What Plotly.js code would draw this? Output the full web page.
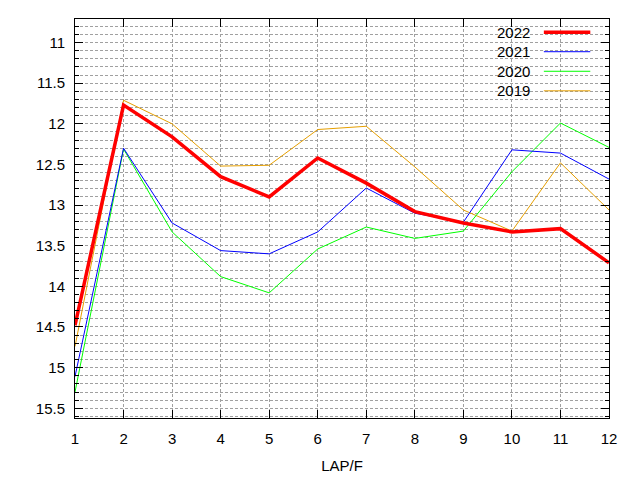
<!DOCTYPE html>
<html>
<head>
<meta charset="utf-8">
<script src="https://cdn.plot.ly/plotly-3.0.1.min.js"></script>
<style>
  html, body { margin: 0; padding: 0; background: #fff; }
  #chart { width: 640px; height: 480px; }
</style>
</head>
<body>
<div id="chart"></div>
<script>
// Values (y axis is reversed: smaller is better)
const laps = [1, 2, 3, 4, 5, 6, 7, 8, 9, 10, 11, 12];

const y2022 = [14.48, 11.77, 12.16, 12.65, 12.90, 12.42, 12.73, 13.08, 13.22, 13.33, 13.29, 13.71];
const y2021 = [15.11, 12.30, 13.22, 13.56, 13.60, 13.33, 12.79, 13.10, 13.21, 12.32, 12.36, 12.68];
const y2020 = [15.30, 12.31, 13.33, 13.88, 14.08, 13.54, 13.27, 13.41, 13.32, 12.59, 11.99, 12.29];
const y2019 = [14.74, 11.71, 12.00, 12.52, 12.51, 12.07, 12.03, 12.53, 13.06, 13.32, 12.48, 13.06];

const seriesNames = ['2022', '2021', '2020', '2019'];
const seriesData  = [y2022, y2021, y2020, y2019];
const seriesColor = ['#ff0000', '#0000ff', '#00ff00', '#e69f00'];
const seriesWidth = [3.5, 1, 1, 1];

const yTicks = [11, 11.5, 12, 12.5, 13, 13.5, 14, 14.5, 15, 15.5];

const FONT = 'Liberation Sans, Arial, sans-serif';

// draw order: older years underneath, 2022 on top
const traces = [];
for (let i = seriesNames.length - 1; i >= 0; i--) {
  traces.push({
    x: laps,
    y: seriesData[i],
    type: 'scatter',
    mode: 'lines',
    name: seriesNames[i],
    line: { color: seriesColor[i], width: seriesWidth[i] },
    showlegend: false,
  });
}

// gnuplot style key: label on the left, line sample on the right
const annotations = [];
const shapes = [];
seriesNames.forEach((name, i) => {
  const yy = 0.967 - i * 0.049;
  annotations.push({
    xref: 'paper', yref: 'paper', x: 0.856, y: yy,
    xanchor: 'right', yanchor: 'middle',
    text: name, showarrow: false,
    font: { family: FONT, size: 15, color: '#000' },
  });
  shapes.push({
    type: 'line', xref: 'paper', yref: 'paper',
    x0: 0.878, x1: 0.965, y0: yy, y1: yy,
    line: { color: seriesColor[i], width: seriesWidth[i] },
  });
});

const GRID = { gridcolor: '#a0a0a0', griddash: '3px,2px', gridwidth: 1 };

const layout = {
  width: 640, height: 480,
  paper_bgcolor: '#fff', plot_bgcolor: '#fff',
  font: { family: FONT, size: 15, color: '#000' },
  margin: { l: 75, r: 31, t: 19, b: 62 },
  showlegend: false,
  xaxis: {
    range: [1, 12],
    tickvals: laps,
    ticks: 'inside', ticklen: 8, tickcolor: '#000',
    showline: true, linecolor: '#000', linewidth: 1, mirror: 'ticks',
    showgrid: true, ...GRID,
    zeroline: false,
    tickfont: { family: FONT, size: 15 },
    ticklabelstandoff: 7,
    title: { text: 'LAP/F', font: { family: FONT, size: 15 }, standoff: 14 },
  },
  yaxis: {
    range: [15.62, 10.71],
    tickvals: yTicks,
    ticks: 'inside', ticklen: 8, tickcolor: '#000',
    showline: true, linecolor: '#000', linewidth: 1, mirror: 'ticks',
    showgrid: true, ...GRID,
    zeroline: false,
    tickfont: { family: FONT, size: 15 },
    ticklabelstandoff: 6,
    minor: {
      dtick: 0.1, ticks: 'inside', ticklen: 4, tickcolor: '#000',
      showgrid: true, ...GRID,
    },
  },
  annotations,
  shapes,
};

Plotly.newPlot('chart', traces, layout, { displayModeBar: false, staticPlot: true });
</script>
</body>
</html>
